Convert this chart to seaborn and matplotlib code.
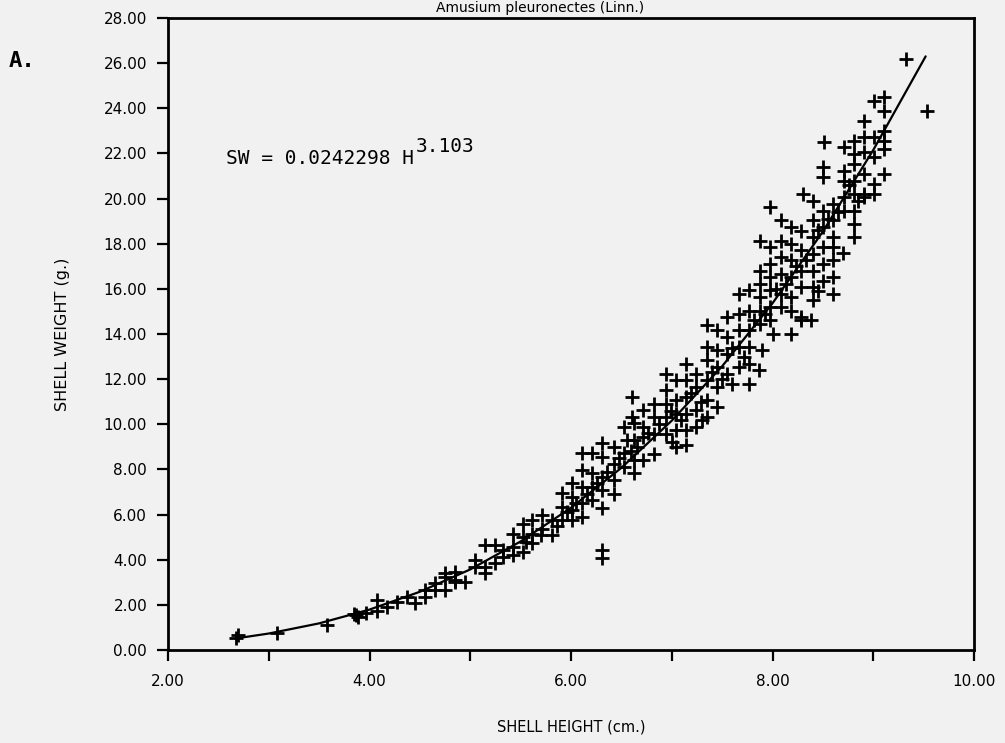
import matplotlib
matplotlib.use("Agg")
import matplotlib.pyplot as plt
import seaborn as sns
import pandas as pd
from matplotlib.ticker import FixedLocator, FormatStrFormatter

# ---------------- data ----------------
shell_height = [
    2.67, 2.69, 3.08, 3.58, 3.85, 3.89, 3.87, 3.97, 4.07, 4.07, 4.17, 4.27, 4.37, 4.45,
    4.55, 4.55, 4.65, 4.65, 4.75, 4.75, 4.85, 4.85, 4.75, 4.85,
    4.95, 5.05, 5.05, 5.15, 5.15, 5.15, 5.25, 5.25, 5.33, 5.33, 5.42, 5.42, 5.42,
    5.52, 5.52, 5.52, 5.61, 5.61, 5.61, 5.71, 5.71, 5.81, 5.81, 5.91, 5.91, 5.91,
    6.01, 6.01, 6.01, 6.01, 6.11, 6.11, 6.11, 6.11, 6.11, 6.21, 6.21, 6.21, 6.21,
    6.31, 6.31, 6.31, 6.31, 6.31, 6.31, 6.31, 6.43, 6.43, 6.43, 6.43, 6.53, 6.53, 6.53,
    6.63, 6.63, 6.63, 6.63,
    6.61, 6.61, 6.71, 6.71, 6.71, 6.71, 6.82, 6.82, 6.82, 6.82, 6.94, 6.94, 6.94, 6.94, 6.94,
    7.04, 7.04, 7.04, 7.04, 7.04, 7.14, 7.14, 7.14, 7.14, 7.14, 7.14, 7.24, 7.24, 7.24, 7.24,
    7.35, 7.35, 7.35, 7.35, 7.35, 7.35, 7.45, 7.45, 7.45, 7.45, 7.45, 7.55, 7.55, 7.55, 7.55,
    7.67, 7.67, 7.67, 7.67, 7.67, 7.77, 7.77, 7.77, 7.77, 7.77, 7.77, 7.87,
    7.88, 7.88, 7.88, 7.88, 7.88, 7.88, 7.98, 7.98, 7.98, 7.98, 7.98, 7.98, 7.98,
    8.08, 8.08, 8.08, 8.08, 8.08, 8.08, 8.18, 8.18, 8.18, 8.18, 8.18, 8.18, 8.18,
    8.28, 8.28, 8.28, 8.28, 8.28, 8.28, 8.38, 8.30, 8.40, 8.40, 8.40, 8.40, 8.40, 8.40, 8.40,
    8.50, 8.50, 8.50, 8.50, 8.50, 8.50, 8.50, 8.60, 8.60, 8.60, 8.60, 8.60, 8.60, 8.60,
    8.71, 8.71, 8.71, 8.71, 8.81, 8.81, 8.81, 8.81, 8.81, 8.81, 8.91, 8.91, 9.01, 9.01,
    8.51, 8.71, 8.81, 8.81, 8.91, 8.91, 8.91, 9.01, 9.11, 9.11, 9.01, 9.11, 9.11, 9.11, 9.11,
    9.33, 9.53, 8.91, 9.01,
    6.56, 6.66, 6.76, 6.87, 6.99, 7.09, 7.19, 7.29, 7.40, 7.50, 7.60, 7.72, 7.82, 7.93,
    8.03, 8.13, 8.23, 8.33, 8.45, 8.55, 8.65, 8.76, 6.26, 6.36, 6.16, 5.96, 5.86, 6.48,
    7.00, 7.30, 7.60, 7.90, 8.00, 8.45, 8.70, 8.85, 5.70, 5.55, 6.05, 6.60,
]
shell_weight = [
    0.55, 0.65, 0.75, 1.12, 1.60, 1.45, 1.55, 1.63, 2.21, 1.75, 1.92, 2.14, 2.36, 2.08,
    2.65, 2.36, 2.96, 2.65, 3.40, 2.65, 3.46, 3.02, 3.24, 3.10,
    3.02, 3.98, 3.69, 4.65, 3.69, 3.39, 4.65, 3.84, 4.42, 4.13, 5.16, 4.57, 4.20,
    5.60, 5.00, 4.35, 5.75, 5.16, 4.72, 5.97, 5.38, 5.75, 5.09, 6.95, 6.34, 5.75,
    7.39, 6.78, 6.19, 5.75, 8.72, 7.96, 7.23, 6.50, 5.90, 8.72, 7.83, 7.23, 6.64,
    9.16, 8.55, 7.67, 7.08, 6.28, 4.42, 4.06, 9.00, 8.26, 7.52, 6.93, 9.88, 8.72, 8.11,
    10.04, 9.29, 8.41, 7.83,
    11.21, 10.32, 10.62, 9.88, 9.44, 8.41, 10.91, 10.32, 9.59, 8.70, 12.24, 11.50, 10.91, 10.32, 9.59,
    11.95, 11.06, 10.47, 9.73, 9.00, 12.69, 11.95, 11.21, 10.47, 9.73, 9.07, 12.24, 11.65, 10.62, 9.88,
    14.38, 13.42, 12.83, 11.95, 11.06, 10.32, 14.16, 13.27, 12.54, 11.65, 10.77, 14.75, 13.86, 13.13, 12.24,
    15.78, 14.90, 14.16, 13.42, 12.54, 15.93, 15.04, 14.16, 13.42, 12.69, 11.80, 12.39,
    18.14, 16.81, 16.22, 15.63, 15.04, 14.45, 19.62, 17.85, 17.11, 16.52, 15.93, 15.19, 14.60,
    19.03, 18.14, 17.40, 16.67, 15.78, 15.19, 18.73, 17.99, 17.26, 16.52, 15.63, 15.04, 14.01,
    18.58, 17.70, 16.81, 16.08, 14.75, 14.60, 14.60, 20.21, 19.91, 19.03, 18.29, 17.55, 16.81, 16.08, 15.49,
    20.94, 21.39, 19.47, 18.73, 17.85, 17.11, 16.37, 19.76, 19.03, 18.29, 17.85, 17.26, 16.52, 15.78,
    21.24, 20.80, 20.06, 19.47, 21.54, 20.80, 20.21, 19.47, 18.88, 18.29, 20.21, 20.06, 20.66, 20.22,
    22.49, 22.27, 22.57, 21.98, 23.45, 22.71, 22.05, 22.71, 24.48, 23.89, 24.34, 23.00, 22.57, 22.20, 21.09,
    26.18, 23.89, 21.09, 21.83,
    9.30, 9.00, 9.60, 10.00, 10.60, 10.20, 11.40, 11.00, 12.30, 12.00, 13.40, 13.00, 14.60, 14.90,
    16.00, 16.20, 17.00, 17.30, 18.60, 19.10, 19.40, 20.60, 7.40, 7.90, 6.90, 6.10, 5.50, 8.50,
    9.20, 10.20, 11.80, 13.30, 14.00, 15.90, 17.60, 19.90, 5.10, 4.80, 6.50, 8.80,
]

# fitted curve SW = 0.0242298 H^3.103
fit_height = [2.67, 3.0, 3.5, 4.0, 4.5, 5.0, 5.5, 6.0, 6.5, 7.0, 7.5, 8.0, 8.5, 9.0, 9.52]
fit_weight = [0.51, 0.73, 1.18, 1.79, 2.58, 3.57, 4.81, 6.30, 8.07, 10.16, 12.57, 15.36, 18.54, 22.15, 26.30]

x_ticks = [2, 3, 4, 5, 6, 7, 8, 9, 10]
x_labels = ["2.00", "", "4.00", "", "6.00", "", "8.00", "", "10.00"]
y_ticks = list(range(0, 29, 2))

title_text = "Amusium pleuronectes (Linn.)"
panel_text = "A."
eq_text = "SW = 0.0242298 H"
eq_exp = "3.103"
x_title = "SHELL HEIGHT (cm.)"
y_title = "SHELL WEIGHT (g.)"

# ---------------- plot ----------------
sns.set_theme(style="white")
plt.rcParams["font.family"] = ["DejaVu Sans"]
plt.rcParams["text.color"] = "black"
plt.rcParams["axes.labelcolor"] = "black"
plt.rcParams["xtick.color"] = "black"
plt.rcParams["ytick.color"] = "black"
bg = "#f1f1f1"

fig = plt.figure(figsize=(10.05, 7.43), dpi=100, facecolor=bg)
ax = fig.add_axes([168 / 1005, 1 - 650 / 743, (974 - 168) / 1005, (650 - 18) / 743])
ax.set_facecolor(bg)

pts = pd.DataFrame({"h": shell_height, "w": shell_weight})
fit = pd.DataFrame({"h": fit_height, "w": fit_weight})

sns.scatterplot(data=pts, x="h", y="w", marker="+", s=95, color="black",
                linewidth=2.0, ax=ax, legend=False, zorder=3)
sns.lineplot(data=fit, x="h", y="w", color="black", linewidth=1.6, ax=ax,
             sort=False, estimator=None, zorder=4)

ax.set_xlim(2, 10)
ax.set_ylim(0, 28)
ax.xaxis.set_major_locator(FixedLocator(x_ticks))
ax.set_xticklabels(x_labels)
ax.yaxis.set_major_locator(FixedLocator(y_ticks))
ax.yaxis.set_major_formatter(FormatStrFormatter("%.2f"))

for s in ax.spines.values():
    s.set_visible(True)
    s.set_color("black")
    s.set_linewidth(2.0)

ax.tick_params(axis="both", which="major", direction="out", length=8, width=1.6,
               color="black", labelcolor="black", labelsize=11)
ax.tick_params(axis="x", pad=9, bottom=True)
ax.tick_params(axis="y", pad=7, left=True)

ax.set_xlabel(x_title, fontsize=10.5, labelpad=22, color="black")
ax.set_ylabel(y_title, fontsize=11.5, labelpad=24, color="black")


def px(x, y):
    return x / 1005, 1 - y / 743


fig.text(*px(226, 159), eq_text, fontsize=14, family="DejaVu Sans Mono",
         va="center", ha="left", color="black")
fig.text(*px(416, 146), eq_exp, fontsize=14, family="DejaVu Sans Mono",
         va="center", ha="left", color="black")
fig.text(*px(9, 61), panel_text, fontsize=16, family="DejaVu Sans Mono",
         fontweight="bold", va="center", ha="left", color="black")
fig.text(*px(540, 12), title_text, fontsize=10, va="baseline", ha="center",
         color="black")

fig.savefig("out.png", dpi=100, facecolor=bg)
